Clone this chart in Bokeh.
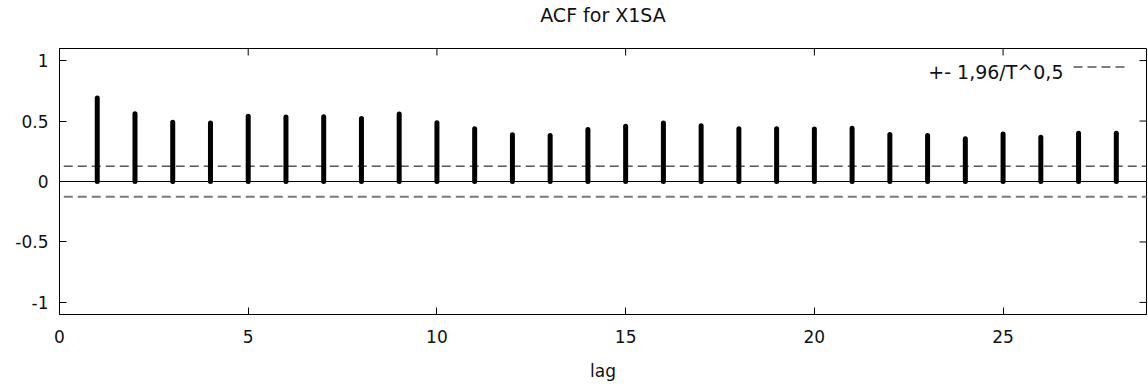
import math
from bokeh.plotting import figure
from bokeh.models import (Range1d, FixedTicker, Label, Legend, LegendItem, Span, LinearAxis)
from bokeh.embed import file_html
from bokeh.resources import INLINE

# ---- data ----
lags = list(range(1, 29))
acf = [0.69, 0.56, 0.49, 0.483, 0.539, 0.533, 0.535, 0.522, 0.558, 0.486,
       0.436, 0.386, 0.381, 0.431, 0.456, 0.483, 0.461, 0.436, 0.436, 0.434,
       0.441, 0.389, 0.381, 0.353, 0.392, 0.367, 0.40, 0.40]
band = 0.127
band_label = "+- 1,96/T^0,5"
title_text = "ACF for X1SA"
x_label = "lag"
x_ticks = [0, 5, 10, 15, 20, 25]
x_tick_labels = ["0", "5", "10", "15", "20", "25"]
y_ticks = [-1, -0.5, 0, 0.5, 1]
y_tick_labels = ["-1", "-0.5", "0", "0.5", "1"]
x_min, x_max = 0, 28.8
y_min, y_max = -1.1, 1.1

FONT = "DejaVu Sans"
TICK_FS = "17px"
TEXT_FS = "19px"
TXT_COLOR = "#111111"
FW, FH = 1087, 266

p = figure(frame_width=FW, frame_height=FH,
           x_range=Range1d(x_min, x_max), y_range=Range1d(y_min, y_max),
           output_backend="svg", toolbar_location=None,
           min_border_left=59, min_border_right=1, min_border_top=48, min_border_bottom=75)
p.background_fill_color = "white"
p.border_fill_color = "white"
p.outline_line_color = "black"
p.outline_line_width = 1
p.xgrid.visible = False
p.ygrid.visible = False


def style_axis(ax, ticks, labels):
    ax.ticker = FixedTicker(ticks=ticks)
    ax.major_label_overrides = {float(t): l for t, l in zip(ticks, labels)}
    ax.major_tick_in = 7
    ax.major_tick_out = 0
    ax.minor_tick_line_color = None
    ax.axis_line_color = "black"
    ax.major_tick_line_color = "black"
    ax.major_label_text_font = FONT
    ax.major_label_text_font_size = TICK_FS
    ax.major_label_text_color = TXT_COLOR


style_axis(p.xaxis[0], x_ticks, x_tick_labels)
style_axis(p.yaxis[0], y_ticks, y_tick_labels)
p.xaxis[0].major_label_standoff = 15
p.yaxis[0].major_label_standoff = 11
p.xaxis[0].axis_label = x_label
p.xaxis[0].axis_label_text_font = FONT
p.xaxis[0].axis_label_text_font_size = TICK_FS
p.xaxis[0].axis_label_text_font_style = "normal"
p.xaxis[0].axis_label_text_color = TXT_COLOR
p.xaxis[0].axis_label_standoff = 15

# title carried by a tick-less axis above the frame
top_ax = LinearAxis(ticker=FixedTicker(ticks=[]), axis_label=title_text)
top_ax.axis_line_color = None
top_ax.major_tick_line_color = None
top_ax.minor_tick_line_color = None
top_ax.major_tick_in = 0
top_ax.major_tick_out = 0
top_ax.major_label_standoff = 0
top_ax.axis_label_standoff = 23
top_ax.axis_label_text_font = FONT
top_ax.axis_label_text_font_size = TEXT_FS
top_ax.axis_label_text_font_style = "normal"
top_ax.axis_label_text_color = TXT_COLOR
p.add_layout(top_ax, "above")

# mirrored ticks on top and right edges (markers clipped by the frame)
p.scatter(x=x_ticks, y=[y_max] * len(x_ticks), marker="dash", size=14,
          angle=math.pi / 2, line_color="black", line_width=1)
p.scatter(x=[x_max] * len(y_ticks), y=y_ticks, marker="dash", size=14,
          line_color="black", line_width=1)

# zero line
p.add_layout(Span(location=0, dimension="width", line_color="black", line_width=1))

# confidence bands
upper = p.line(x=[x_min - 1, x_max + 1], y=[band, band], line_color="black",
               line_width=1, line_dash="9 5")
lower = p.line(x=[x_min - 1, x_max + 1], y=[-band, -band], line_color="#7a7a7a",
               line_width=2, line_dash="9 5")

# bars
p.segment(x0=lags, y0=[0] * len(lags), x1=lags, y1=acf,
          line_color="black", line_width=5, line_cap="round")

legend = Legend(items=[LegendItem(label=" ", renderers=[upper])],
                location="top_right", margin=0, padding=0,
                glyph_width=55, glyph_height=37, label_width=18, label_standoff=0,
                label_text_font_size="1px", border_line_color=None,
                background_fill_alpha=0)
p.add_layout(legend)

p.add_layout(Label(x=FW - 83, y=FH - 23.5, x_units="screen", y_units="screen",
                   text=band_label, text_align="right", text_baseline="alphabetic",
                   text_font=FONT, text_font_size=TEXT_FS, text_color=TXT_COLOR))

open("out.html", "w").write(file_html(p, INLINE))
